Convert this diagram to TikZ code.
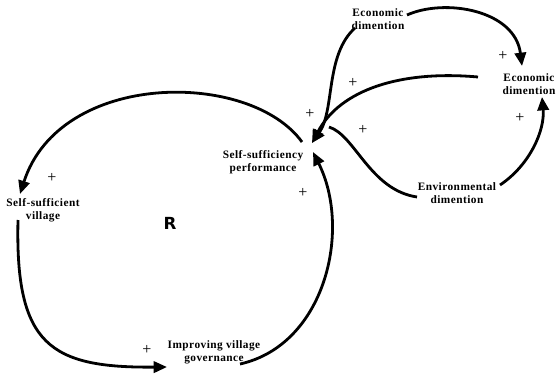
\documentclass[tikz,border=0pt]{standalone}
\usepackage{fontspec}
\setmainfont{Liberation Serif}
\newfontfamily\rfont{DejaVu Sans}
\usetikzlibrary{arrows.meta}
\begin{document}
\begin{tikzpicture}[x=0.75pt,y=-0.75pt,
  lbl/.style={font=\bfseries\fontsize{8.5}{9.8}\selectfont\addfontfeatures{LetterSpace=4}, align=center, inner sep=0pt},
  pl/.style={font=\fontsize{12}{13}\selectfont, inner sep=0pt},
  link/.style={line width=2.1pt, -{Triangle[length=10pt,width=8.5pt]}},
  plain/.style={line width=2.1pt}]
\useasboundingbox (0,0) rectangle (556,374);
% labels
\node[lbl] (econTop) at (378,19) {Economic\\dimention};
\node[lbl] (econR) at (529,84) {Economic\\dimention};
\node[lbl] (env) at (457,193) {Environmental\\dimention};
\node[lbl] (ssp) at (263,162) {Self-sufficiency\\performance};
\node[lbl] (ssv) at (43,210) {Self-sufficient\\village};
\node[lbl] (ivg) at (214,352) {Improving village\\governance};
\node[font=\rfont\bfseries\fontsize{12.5}{13}\selectfont, inner sep=0pt] (R) at (170,223) {R};
% endpoints
\coordinate (sspTop) at (302,142);
\coordinate (sspIn) at (312,143);
\coordinate (sspIn2) at (313,152);
\coordinate (sspOut) at (329,127);
\coordinate (ssvIn) at (20,194);
\coordinate (ssvOut) at (18,220);
\coordinate (ivgIn) at (167,367);
\coordinate (ivgOut) at (240,364);
\coordinate (etOutR) at (407,15);
\coordinate (etOutL) at (355,28);
\coordinate (erIn) at (522,66);
\coordinate (erIn2) at (542,97);
\coordinate (erOut) at (478,77);
\coordinate (envIn) at (417,197);
\coordinate (envOut) at (500,185);
% connectors
\draw[link] (sspTop) .. controls (250,70) and (60,70) .. (ssvIn);
\draw[link] (ssvOut) .. controls (15,345) and (50,368) .. (ivgIn);
\draw[link] (ivgOut) .. controls (325,345) and (352,230) .. (sspIn2);
\draw[link] (etOutR) .. controls (445,-2) and (515,10) .. (erIn);
\draw[link] (etOutL) .. controls (325,55) and (335,110) .. (sspIn);
\draw[link] (erOut) .. controls (400,70) and (340,90) .. (sspIn);
\draw[plain] (sspOut) .. controls (355,135) and (370,190) .. (envIn);
\draw[link] (envOut) .. controls (530,165) and (545,130) .. (erIn2);
% polarity signs
\node[pl] (p1) at (52,178) {+};
\node[pl] (p2) at (310,114) {+};
\node[pl] (p3) at (303,193) {+};
\node[pl] (p4) at (147,350) {+};
\node[pl] (p5) at (353,83) {+};
\node[pl] (p6) at (363,130) {+};
\node[pl] (p7) at (503,56) {+};
\node[pl] (p8) at (520,118) {+};
\end{tikzpicture}
\end{document}
